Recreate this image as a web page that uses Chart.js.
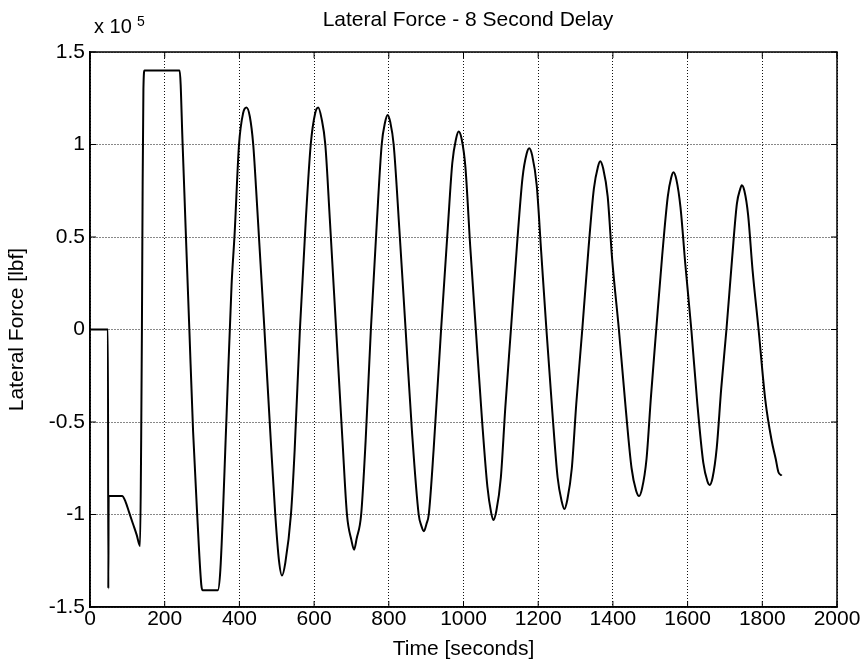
<!DOCTYPE html>
<html>
<head>
<meta charset="utf-8">
<script src="https://cdn.jsdelivr.net/npm/chart.js@4/dist/chart.umd.min.js"></script>
<style>
    body { margin: 0; background: #fff; }
    #wrap { width: 863px; height: 666px; }
</style>
</head>
<body>
<div id="wrap"><canvas id="lateral-force-chart" width="863" height="666"></canvas></div>
<script>
// time [s]
const times = [
    0, 48, 49, 50, 86, 95, 105, 115, 125, 134,
    137, 139, 141, 143, 146, 240, 248, 256, 266, 276, 287, 298, 302, 342,
    349, 365, 379, 387, 399, 410, 419, 428, 437, 445, 467, 484, 496, 506, 514,
    523, 538, 548, 562, 578, 591, 603, 611, 620, 630, 642, 659, 676, 688, 700, 707,
    714, 726, 738, 752, 768, 781, 790, 797, 804, 813, 828, 845, 862, 880, 887, 894,
    901, 907, 920, 940, 958, 970, 980, 987, 995, 1005, 1018, 1033, 1050, 1064, 1074, 1080,
    1088, 1100, 1112, 1127, 1143, 1158, 1169, 1176, 1184, 1196, 1208, 1222, 1238, 1252, 1263, 1270,
    1278, 1290, 1302, 1318, 1334, 1349, 1360, 1366, 1374, 1386, 1398, 1416, 1434, 1450, 1462, 1470,
    1478, 1490, 1502, 1516, 1532, 1547, 1556, 1562, 1570, 1581, 1594, 1610, 1626, 1642, 1653, 1659,
    1667, 1678, 1690, 1704, 1719, 1732, 1741, 1745, 1752, 1762, 1774, 1790, 1808, 1825, 1836, 1843, 1852
];

// lateral force [x 10^5 lbf]
const forces = [
    0, 0, -1.40, -0.90, -0.90, -0.93, -0.99, -1.05, -1.11, -1.17,
    -0.60, 0.00, 0.80, 1.30, 1.40, 1.40, 1.00, 0.55, 0.00, -0.55, -1.00, -1.38, -1.41, -1.41,
    -1.30, -0.50, 0.24, 0.51, 1.00, 1.17, 1.20, 1.15, 1.00, 0.75, 0.00, -0.60, -1.00, -1.25, -1.33,
    -1.26, -1.00, -0.65, 0.00, 0.60, 1.00, 1.17, 1.20, 1.14, 1.00, 0.60, 0.00, -0.60, -1.00, -1.14, -1.19,
    -1.13, -1.00, -0.60, 0.00, 0.58, 1.00, 1.12, 1.16, 1.12, 1.00, 0.55, 0.00, -0.55, -1.00, -1.06, -1.09,
    -1.05, -1.00, -0.65, 0.00, 0.55, 0.90, 1.03, 1.07, 1.03, 0.88, 0.45, 0.00, -0.50, -0.85, -0.99, -1.03,
    -0.98, -0.80, -0.42, 0.00, 0.45, 0.82, 0.95, 0.98, 0.94, 0.78, 0.42, 0.00, -0.45, -0.80, -0.93, -0.97,
    -0.92, -0.75, -0.40, 0.00, 0.42, 0.76, 0.88, 0.91, 0.87, 0.72, 0.38, 0.00, -0.42, -0.75, -0.87, -0.90,
    -0.86, -0.70, -0.36, 0.00, 0.40, 0.72, 0.82, 0.85, 0.81, 0.66, 0.35, 0.00, -0.40, -0.72, -0.82, -0.84,
    -0.80, -0.64, -0.32, 0.00, 0.38, 0.68, 0.76, 0.78, 0.75, 0.62, 0.32, 0.00, -0.38, -0.60, -0.70, -0.77, -0.79
];

const xTickValues = [0, 200, 400, 600, 800, 1000, 1200, 1400, 1600, 1800, 2000];
const yTickValues = [-1.5, -1, -0.5, 0, 0.5, 1, 1.5];

const fontFamily = '"Liberation Sans", Arial, sans-serif';

// box, inward ticks, title and exponent label (matlab style)
const matlabFrame = {
    id: 'matlabFrame',
    afterDraw(chart) {
        const ctx = chart.ctx;
        const area = chart.chartArea;
        const xs = chart.scales.x;
        const ys = chart.scales.y;
        ctx.save();
        ctx.strokeStyle = '#000';
        ctx.lineWidth = 1.5;
        ctx.strokeRect(area.left, area.top, area.right - area.left, area.bottom - area.top);

        ctx.lineWidth = 1;
        ctx.beginPath();
        xTickValues.forEach(function (v) {
            let px = xs.getPixelForValue(v);
            ctx.moveTo(px, area.bottom);
            ctx.lineTo(px, area.bottom - 6);
            ctx.moveTo(px, area.top);
            ctx.lineTo(px, area.top + 6);
        });
        yTickValues.forEach(function (v) {
            let py = ys.getPixelForValue(v);
            ctx.moveTo(area.left, py);
            ctx.lineTo(area.left + 6, py);
            ctx.moveTo(area.right, py);
            ctx.lineTo(area.right - 6, py);
        });
        ctx.stroke();

        ctx.fillStyle = '#000';
        ctx.textBaseline = 'alphabetic';
        ctx.textAlign = 'center';
        ctx.font = '21px ' + fontFamily;
        ctx.fillText('Lateral Force - 8 Second Delay', 468, 26);

        ctx.textAlign = 'left';
        ctx.font = '20px ' + fontFamily;
        ctx.fillText('x 10', 94, 33);
        ctx.font = '14px ' + fontFamily;
        ctx.fillText('5', 137, 26);
        ctx.restore();
    }
};

new Chart(document.getElementById('lateral-force-chart'), {
    type: 'line',
    data: {
        datasets: [
            {
                data: times.map(function (t, i) { return {x: t, y: forces[i]}; }),
                borderColor: '#000',
                borderWidth: 2,
                pointRadius: 0,
                fill: false,
                cubicInterpolationMode: 'monotone'
            }
        ]
    },
    options: {
        responsive: false,
        animation: false,
        layout: {
            padding: {left: 0, top: 52, right: 26, bottom: 0}
        },
        scales: {
            x: {
                type: 'linear',
                min: 0,
                max: 2000,
                afterBuildTicks: function (scale) {
                    scale.ticks = xTickValues.map(function (v) { return {value: v}; });
                },
                afterFit: function (scale) {
                    scale.height = 59;
                },
                grid: {
                    color: '#111',
                    lineWidth: 1,
                    drawTicks: false
                },
                border: {
                    display: true,
                    color: '#000',
                    width: 1.5,
                    dash: [1, 2]
                },
                ticks: {
                    color: '#000',
                    padding: 0,
                    maxRotation: 0,
                    autoSkip: false,
                    font: {family: fontFamily, size: 21},
                    callback: function (value) {
                        return String(value);
                    }
                },
                title: {
                    display: true,
                    text: 'Time [seconds]',
                    color: '#000',
                    padding: {top: 0, bottom: 4},
                    font: {family: fontFamily, size: 21}
                }
            },
            y: {
                type: 'linear',
                min: -1.5,
                max: 1.5,
                afterBuildTicks: function (scale) {
                    scale.ticks = yTickValues.map(function (v) { return {value: v}; });
                },
                afterFit: function (scale) {
                    scale.width = 90;
                },
                grid: {
                    color: '#111',
                    lineWidth: 1,
                    drawTicks: false
                },
                border: {
                    display: true,
                    color: '#000',
                    width: 1.5,
                    dash: [1, 2]
                },
                ticks: {
                    color: '#000',
                    padding: 5,
                    autoSkip: false,
                    font: {family: fontFamily, size: 21},
                    callback: function (value) {
                        return String(value);
                    }
                },
                title: {
                    display: true,
                    text: 'Lateral Force [lbf]',
                    color: '#000',
                    padding: {top: 5, bottom: 0},
                    font: {family: fontFamily, size: 21}
                }
            }
        },
        plugins: {
            legend: {display: false},
            title: {display: false},
            tooltip: {enabled: false}
        }
    },
    plugins: [matlabFrame]
});
</script>
</body>
</html>
